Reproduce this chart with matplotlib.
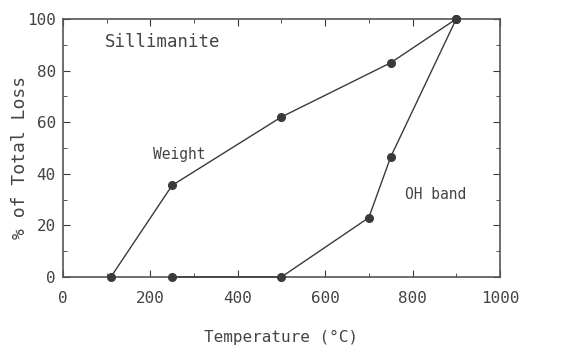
import matplotlib
matplotlib.use('Agg')
import matplotlib.pyplot as plt
from matplotlib.ticker import MultipleLocator

# data
temp_weight = [110, 250, 500, 750, 900]
loss_weight = [0, 35.5, 62, 83, 100]

temp_oh = [250, 500, 700, 750, 900]
loss_oh = [0, 0, 23, 46.5, 100]

x_ticks = [0, 200, 400, 600, 800, 1000]
y_ticks = [0, 20, 40, 60, 80, 100]

plt.rcParams['font.family'] = ['DejaVu Sans Mono']
cor = '#3a3a3a'
cor_txt = '#444444'

fig = plt.figure(figsize=(5.76, 3.64), dpi=100)
ax = fig.add_axes([0.109, 0.239, 0.759, 0.709])

ax.plot(temp_weight, loss_weight, color=cor, lw=1.0, marker='o', ms=5.5, clip_on=False, zorder=3)
ax.plot(temp_oh, loss_oh, color=cor, lw=1.0, marker='o', ms=5.5, clip_on=False, zorder=3)

ax.set_xlim(0, 1000)
ax.set_ylim(0, 100)
ax.set_xticks(x_ticks)
ax.set_yticks(y_ticks)
ax.xaxis.set_minor_locator(MultipleLocator(100))
ax.yaxis.set_minor_locator(MultipleLocator(10))
ax.tick_params(which='both', direction='in', top=True, right=True, colors=cor, labelcolor=cor_txt, labelsize=11.5)
ax.tick_params(axis='x', which='major', pad=10)
ax.tick_params(axis='y', which='major', pad=5)
ax.tick_params(which='major', length=5)
ax.tick_params(which='minor', length=3)
for s in ax.spines.values():
    s.set_color('#555555')
    s.set_linewidth(1.2)

ax.set_xlabel('Temperature (\u00b0C)', fontsize=11.5, color=cor_txt, labelpad=17)
ax.set_ylabel('% of Total Loss', fontsize=13, color=cor_txt, va='center')
ax.yaxis.set_label_coords(-0.098, 0.465)

ax.text(96, 91, 'Sillimanite', fontsize=12.5, color=cor_txt, va='center')
ax.text(206, 47.5, 'Weight', fontsize=10.5, color=cor_txt, va='center')
ax.text(783, 32, 'OH band', fontsize=10.5, color=cor_txt, va='center')

fig.savefig('out.png', dpi=100)
